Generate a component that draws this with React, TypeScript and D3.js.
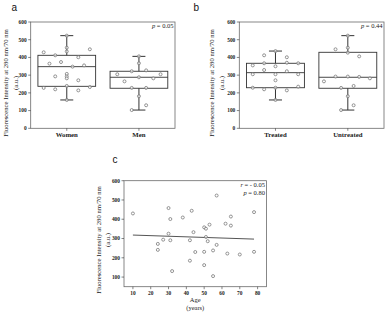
import React from "react";
import * as d3 from "d3";

const W = 387;
const H = 313;

const yTicksBox = [0, 100, 200, 300, 400, 500, 600];
const yTicksScatter = [100, 200, 300, 400, 500, 600];
const xTicksScatter = [10, 20, 30, 40, 50, 60, 70, 80];

const groupsA = ["Women", "Men"];
const groupsB = ["Treated", "Untreated"];

// box statistics [min, q1, median, q3, max]
const womenBox = [160, 237, 348, 412, 523];
const menBox = [103, 226, 288, 322, 406];
const treatedBox = [160, 229, 314, 367, 436];
const untreatedBox = [103, 226, 288, 429, 523];

// individual values and their horizontal jitter (in category steps)
const womenValues = [523, 455, 446, 434, 429, 412, 401, 374, 365, 355, 348, 307, 293, 293, 282, 271, 239, 233, 228, 220, 214, 160];
const womenJitter = [0, 0, 0.32, 0, -0.32, -0.16, 0.16, -0.08, -0.24, 0.24, 0.08, 0, -0.16, 0, 0, 0.16, 0, 0.32, -0.32, -0.16, 0.16, 0];
const menValues = [406, 367, 327, 322, 305, 305, 288, 282, 265, 228, 228, 181, 130, 103];
const menJitter = [0, 0, 0.1, -0.1, -0.3, 0.3, 0, 0.2, -0.2, -0.1, 0.1, 0, 0.1, -0.1];
const treatedValues = [436, 412, 401, 370, 367, 367, 355, 350, 329, 322, 305, 305, 305, 271, 235, 229, 229, 220, 214, 160];
const treatedJitter = [0, -0.157, 0.157, 0.157, -0.157, 0.314, -0.314, 0, -0.157, 0.157, -0.314, 0, 0.314, 0, 0.314, -0.314, 0, -0.157, 0.157, 0];
const untreatedValues = [523, 455, 446, 427, 406, 292, 292, 290, 282, 265, 239, 228, 181, 130, 103];
const untreatedJitter = [0, 0, -0.17, 0, 0.157, -0.17, 0, 0.157, 0.305, -0.33, 0.08, -0.093, 0, 0.08, -0.093];

const ages = [10, 24, 24, 27, 30, 30, 31, 31, 32, 38, 42, 42, 43, 44, 45, 50, 50, 50, 51, 51, 52, 53, 55, 55, 57, 57, 62, 63, 65, 65, 70, 78, 78];
const intensities = [430, 272, 241, 294, 458, 325, 401, 291, 131, 409, 291, 185, 444, 333, 230, 358, 231, 162, 351, 308, 286, 372, 238, 105, 523, 267, 377, 222, 414, 367, 217, 437, 231];
const fitAges = [10, 78];
const fitValues = [318, 297];

const SERIF = "'Liberation Serif', 'Times New Roman', serif";
const SANS = "'Liberation Sans', Arial, sans-serif";
const FRAME = "#6a6a6a";
const DARK = "#333";
const PT = "#7a7a7a";
const TXT = "#222";

type BoxPanelProps = {
  left: number; right: number; top: number; bottom: number;
  groups: string[];
  boxes: number[][];
  values: number[][];
  jitters: number[][];
  pText: string;
  letter: string;
  letterX: number;
  labelX: number;
};

function YLabel({ x, cy }: { x: number; cy: number }) {
  return (
    <g fontFamily={SERIF} fill={TXT} fontSize={6.7}>
      <text transform={`translate(${x},${cy}) rotate(-90)`} textAnchor="middle">
        Fluorescence Intensity at 280 nm/70 nm
      </text>
      <text transform={`translate(${x + 9.5},${cy}) rotate(-90)`} textAnchor="middle">
        (a.u.)
      </text>
    </g>
  );
}

function BoxPanel(p: BoxPanelProps) {
  const y = d3.scaleLinear().domain([0, 600]).range([p.bottom, p.top]);
  const x = d3.scalePoint<string>().domain(p.groups).range([p.left, p.right]).padding(0.5);
  const step = x.step();
  const bw = step * 0.8;
  const cap = step * 0.09;
  return (
    <g>
      <text x={p.letterX} y={10.5} fontFamily={SANS} fontSize={10} fill="#111">{p.letter}</text>
      <YLabel x={p.labelX} cy={83} />
      <rect x={p.left} y={p.top} width={p.right - p.left} height={p.bottom - p.top} fill="none" stroke={FRAME} strokeWidth={0.8} />
      {yTicksBox.map((t) => (
        <g key={t}>
          <line x1={p.left - 2.5} x2={p.left} y1={y(t)} y2={y(t)} stroke={DARK} strokeWidth={0.6} />
          <text x={p.left - 4} y={y(t) + 1.8} textAnchor="end" fontFamily={SERIF} fontSize={5.4} fontWeight="bold" fill={TXT}>{t}</text>
        </g>
      ))}
      {p.groups.map((g, i) => {
        const cx = x(g) as number;
        const [mn, q1, md, q3, mx] = p.boxes[i];
        return (
          <g key={g}>
            <line x1={cx} x2={cx} y1={p.bottom} y2={p.bottom + 2.5} stroke={DARK} strokeWidth={0.6} />
            <text x={cx} y={p.bottom + 9} textAnchor="middle" fontFamily={SERIF} fontSize={6.8} fontWeight="bold" fill={TXT}>{g}</text>
            <line x1={cx} x2={cx} y1={y(mx)} y2={y(q3)} stroke={DARK} strokeWidth={1} />
            <line x1={cx} x2={cx} y1={y(q1)} y2={y(mn)} stroke={DARK} strokeWidth={1} />
            <line x1={cx - cap} x2={cx + cap} y1={y(mx)} y2={y(mx)} stroke={DARK} strokeWidth={1} />
            <line x1={cx - cap} x2={cx + cap} y1={y(mn)} y2={y(mn)} stroke={DARK} strokeWidth={1} />
            <rect x={cx - bw / 2} y={y(q3)} width={bw} height={y(q1) - y(q3)} fill="none" stroke={DARK} strokeWidth={0.9} />
            <line x1={cx - bw / 2} x2={cx + bw / 2} y1={y(md)} y2={y(md)} stroke={DARK} strokeWidth={0.9} />
            {p.values[i].map((v, j) => (
              <circle key={j} cx={cx + p.jitters[i][j] * step} cy={y(v)} r={1.5} fill="white" fillOpacity={0.6} stroke={PT} strokeWidth={0.8} />
            ))}
          </g>
        );
      })}
      <text x={p.right - 1.5} y={p.top + 5.5} textAnchor="end" fontFamily={SERIF} fontSize={6.5} fill={TXT}>
        <tspan fontStyle="italic">p</tspan> = {p.pText}
      </text>
    </g>
  );
}

function ScatterPanel() {
  const left = 124, right = 266.5, top = 180.7, bottom = 286.7;
  const x = d3.scaleLinear().domain([5, 85]).range([left, right]);
  const y = d3.scaleLinear().domain([50, 600]).range([bottom, top]);
  const line = d3.line<number>().x((_, i) => x(fitAges[i])).y((d) => y(d));
  return (
    <g>
      <text x={112.5} y={163} fontFamily={SANS} fontSize={10} fill="#111">c</text>
      <YLabel x={100.5} cy={240} />
      <rect x={left} y={top} width={right - left} height={bottom - top} fill="none" stroke={FRAME} strokeWidth={0.8} />
      {yTicksScatter.map((t) => (
        <g key={t}>
          <line x1={left - 2.5} x2={left} y1={y(t)} y2={y(t)} stroke={DARK} strokeWidth={0.6} />
          <text x={left - 4} y={y(t) + 1.8} textAnchor="end" fontFamily={SERIF} fontSize={5.4} fontWeight="bold" fill={TXT}>{t}</text>
        </g>
      ))}
      {xTicksScatter.map((t) => (
        <g key={t}>
          <line x1={x(t)} x2={x(t)} y1={bottom} y2={bottom + 2.5} stroke={DARK} strokeWidth={0.6} />
          <text x={x(t)} y={bottom + 8} textAnchor="middle" fontFamily={SERIF} fontSize={5.4} fontWeight="bold" fill={TXT}>{t}</text>
        </g>
      ))}
      <text x={(left + right) / 2} y={bottom + 15} textAnchor="middle" fontFamily={SERIF} fontSize={6.5} fill={TXT}>Age</text>
      <text x={(left + right) / 2} y={bottom + 23} textAnchor="middle" fontFamily={SERIF} fontSize={6.5} fill={TXT}>(years)</text>
      <path d={line(fitValues) || ""} fill="none" stroke="#555" strokeWidth={1} />
      {ages.map((a, i) => (
        <circle key={i} cx={x(a)} cy={y(intensities[i])} r={1.5} fill="white" fillOpacity={0.6} stroke={PT} strokeWidth={0.8} />
      ))}
      <text x={right - 1.5} y={top + 6.5} textAnchor="end" fontFamily={SERIF} fontSize={6.5} fill={TXT}>
        <tspan fontStyle="italic">r</tspan> = - 0.05
      </text>
      <text x={right - 1.5} y={top + 14.5} textAnchor="end" fontFamily={SERIF} fontSize={6.5} fill={TXT}>
        <tspan fontStyle="italic">p</tspan> = 0.80
      </text>
    </g>
  );
}

export default function App() {
  return (
    <svg width={W} height={H} style={{ position: "absolute", left: 0, top: 0, background: "white" }}>
      <BoxPanel left={30.7} right={175} top={22} bottom={128.3} groups={groupsA}
        boxes={[womenBox, menBox]} values={[womenValues, menValues]} jitters={[womenJitter, menJitter]}
        pText="0.05" letter="a" letterX={11.5} labelX={8} />
      <BoxPanel left={239.3} right={384} top={22} bottom={128.3} groups={groupsB}
        boxes={[treatedBox, untreatedBox]} values={[treatedValues, untreatedValues]} jitters={[treatedJitter, untreatedJitter]}
        pText="0.44" letter="b" letterX={193.5} labelX={214} />
      <ScatterPanel />
    </svg>
  );
}
